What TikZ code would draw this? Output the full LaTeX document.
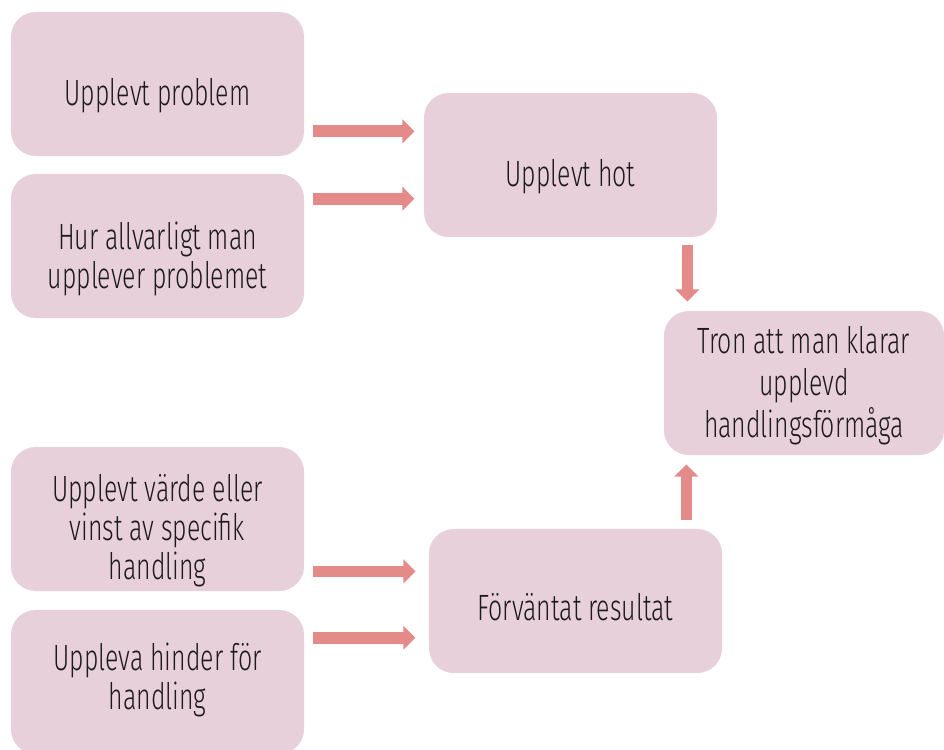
\documentclass[tikz,border=0pt]{standalone}
\usepackage{fontspec}
\setmainfont{Fira Sans Light}[FakeStretch=0.68]
\usetikzlibrary{arrows.meta}
\definecolor{boxrosa}{HTML}{E8D0DA}
\definecolor{pilrod}{HTML}{E48B8A}
\definecolor{textsvart}{HTML}{1C1A1C}
% text i rutan, sänkt en bit
\newcommand{\radtext}[2]{\raisebox{-#1}[\height][\depth]{\begin{tabular}{@{}c@{}}#2\end{tabular}}}
\begin{document}
\begin{tikzpicture}[x=0.025cm, y=-0.025cm,
    boks/.style={fill=boxrosa, rounded corners=0.62cm, minimum width=7.325cm, minimum height=3.6cm, inner sep=0pt, text=textsvart, font={\fontsize{26pt}{27pt}\selectfont}},
    pil/.style={draw=pilrod, line width=0.29cm, -{Triangle[length=0.3cm, width=0.58cm]}}]
    \path[use as bounding box, clip] (0,0) rectangle (944,749);
    % vänster kolumn
    \node[boks] (problem) at (157.5,84) {\radtext{0.34cm}{Upplevt problem}};
    \node[boks] (allvar) at (157.5,246) {\radtext{0.37cm}{Hur allvarligt man\\upplever problemet}};
    \node[boks] (varde) at (157.5,519) {\radtext{0.33cm}{Upplevt värde eller\\vinst av specifik\\handling}};
    \node[boks] (hinder) at (157.5,682) {\radtext{0cm}{Uppleva hinder för\\handling}};
    % mitten och höger
    \node[boks] (hot) at (570.5,165) {\radtext{0.34cm}{Upplevt hot}};
    \node[boks] (resultat) at (575.5,601) {\radtext{0.29cm}{Förväntat resultat}};
    \node[boks, minimum width=7cm, font={\fontsize{26pt}{30pt}\selectfont}] (tron) at (804,383) {\radtext{0.1cm}{Tron att man klarar\\upplevd\\handlingsförmåga}};
    % pilar
    \coordinate (p1) at ([shift={(9,-25)}]problem.south east);
    \coordinate (p2) at ([shift={(9,25)}]allvar.north east);
    \coordinate (p3) at ([shift={(9,-20)}]varde.south east);
    \coordinate (p4) at ([shift={(9,28)}]hinder.north east);
    \coordinate (p5) at ([shift={(-30,8)}]hot.south east);
    \coordinate (p6) at ([shift={(-36,-9)}]resultat.north east);
    \draw[pil, shorten >=0.23cm] (p1) -- (p1 -| hot.west);
    \draw[pil, shorten >=0.23cm] (p2) -- (p2 -| hot.west);
    \draw[pil, shorten >=0.33cm] (p3) -- (p3 -| resultat.west);
    \draw[pil, shorten >=0.33cm] (p4) -- (p4 -| resultat.west);
    \draw[pil, shorten >=0.23cm] (p5) -- (p5 |- tron.north);
    \draw[pil, shorten >=0.23cm] (p6) -- (p6 |- tron.south);
\end{tikzpicture}
\end{document}
